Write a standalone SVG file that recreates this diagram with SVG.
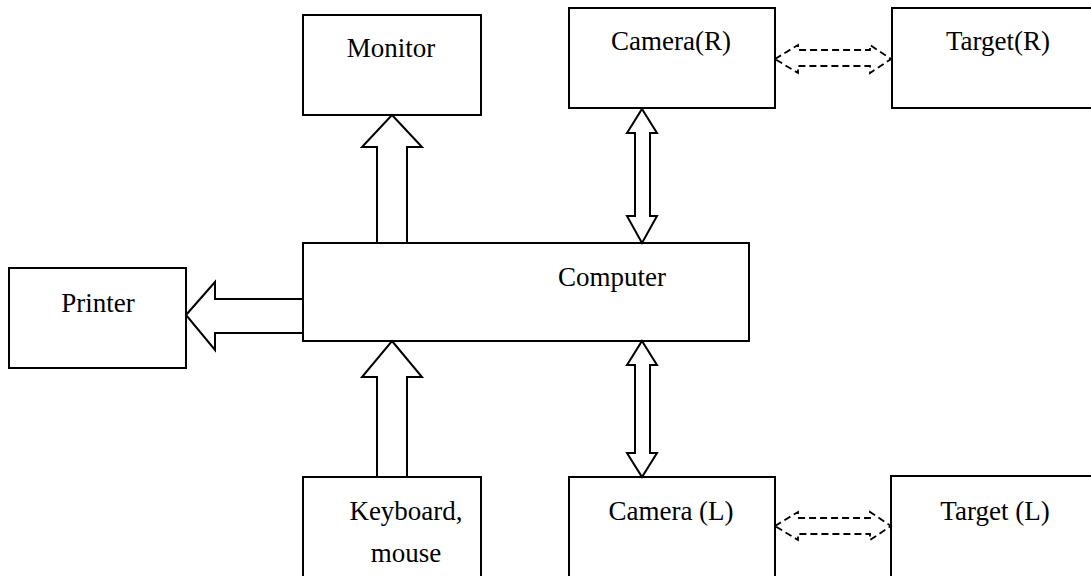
<svg xmlns="http://www.w3.org/2000/svg" width="1091" height="576" viewBox="0 0 1091 576">
<style>
.box{fill:#fff;stroke:#000;stroke-width:2}
.lbl{font-family:"Liberation Serif","Times New Roman",serif;font-size:27px;fill:#000;text-anchor:middle}
.blk{fill:#fff;stroke:#000;stroke-width:2;stroke-linejoin:miter}
.dsh{fill:none;stroke:#000;stroke-width:1.8;stroke-dasharray:7,4}
</style>
<rect width="1091" height="576" fill="#fff"/>
<g id="monitor"><rect class="box" x="303" y="15" width="178" height="100"/><text class="lbl" x="391" y="57">Monitor</text></g>
<g id="camera-r"><rect class="box" x="569" y="8" width="206" height="100"/><text class="lbl" x="671" y="50">Camera(R)</text></g>
<g id="target-r"><rect class="box" x="892" y="8" width="210" height="100"/><text class="lbl" x="998" y="50">Target(R)</text></g>
<g id="printer"><rect class="box" x="9" y="268" width="177" height="100"/><text class="lbl" x="98" y="312">Printer</text></g>
<g id="computer"><rect class="box" x="303" y="243" width="446" height="98"/><text class="lbl" x="612" y="286">Computer</text></g>
<g id="keyboard"><rect class="box" x="303" y="477" width="178" height="110"/><text class="lbl" x="406" y="520">Keyboard,</text><text class="lbl" x="406" y="562">mouse</text></g>
<g id="camera-l"><rect class="box" x="569" y="477" width="206" height="110"/><text class="lbl" x="671" y="520">Camera (L)</text></g>
<g id="target-l"><rect class="box" x="891" y="476" width="210" height="110"/><text class="lbl" x="995" y="520">Target (L)</text></g>
<g id="connectors">
<polygon class="blk" points="392,115 422,147 407,147 407,243 377,243 377,147 362,147"/>
<polygon class="blk" points="642,109 657,133 650,133 650,216 657,216 642,243 627,216 635,216 635,133 627,133"/>
<polygon class="blk" points="642,341 657,365 650,365 650,453 657,453 642,477 627,453 635,453 635,365 627,365"/>
<polygon class="blk" points="392,341 422,377 407,377 407,477 377,477 377,377 362,377"/>
<polygon class="blk" points="186,315 215,282 215,299 303,299 303,333 215,333 215,350"/>
<path class="dsh" d="M775,59 L798,45 L798,50 L870,50 L870,45 L891,59 L870,73 L870,66 L798,66 L798,73 Z"/>
<path class="dsh" d="M775,526 L798,512 L798,518 L870,518 L870,512 L891,526 L870,540 L870,534 L798,534 L798,540 Z"/>
</g>
</svg>
